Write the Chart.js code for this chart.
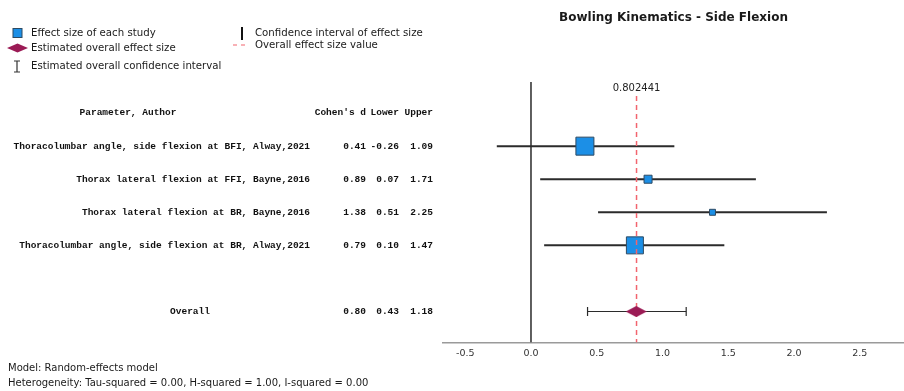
<!DOCTYPE html>
<html>
<head>
<meta charset="utf-8">
<script src="https://cdn.jsdelivr.net/npm/chart.js@4.4.1/dist/chart.umd.min.js"></script>
<style>
  html, body { margin: 0; padding: 0; background: #ffffff; }
  #wrap { position: relative; width: 904px; height: 391px; }
</style>
</head>
<body>
<div id="wrap"><canvas id="c" width="904" height="391"></canvas></div>
<script>
// ---------------- data ----------------
const studyLabels = [
  'Thoracolumbar angle, side flexion at BFI, Alway,2021',
  'Thorax lateral flexion at FFI, Bayne,2016',
  'Thorax lateral flexion at BR, Bayne,2016',
  'Thoracolumbar angle, side flexion at BR, Alway,2021'
];
const cohensD = [0.41, 0.89, 1.38, 0.79];
const lowerCI = [-0.26, 0.07, 0.51, 0.10];
const upperCI = [1.09, 1.71, 2.25, 1.47];
const studyWeights = [45.4, 9.0, 5.0, 40.5];   // relative weight (%)
const overallLabel = 'Overall';
const overallD = 0.80;
const overallLower = 0.43;
const overallUpper = 1.18;
const overallValue = 0.802441;
const xTickValues = [-0.5, 0.0, 0.5, 1.0, 1.5, 2.0, 2.5];
const titleText = 'Bowling Kinematics - Side Flexion';
const headerLabels = ['Parameter, Author', "Cohen's d", 'Lower', 'Upper'];
const legendItems = ['Effect size of each study', 'Estimated overall effect size', 'Estimated overall confidence interval',
                     'Confidence interval of effect size', 'Overall effect size value'];
const footnotes = ['Model: Random-effects model',
                   'Heterogeneity: Tau-squared = 0.00, H-squared = 1.00, I-squared = 0.00'];

// ---------------- rows (y values) ----------------
const headerRow = 1;
const studyRows = studyLabels.map((_, i) => i + 2);
const overallRow = studyLabels.length + 3;
const Y_MAX = 7.94;

// ---------------- styles ----------------
const BOX_FILL = '#1c8fe6';
const BOX_BORDER = '#2d4a63';
const DIAMOND = '#9b1b55';
const LINE = '#2b2b2b';
const RED = '#f2646e';
const MONO = 'bold 9.5px "Liberation Mono", "Courier New", monospace';
const SANS = '"DejaVu Sans", "Open Sans", sans-serif';

// diamond image for the overall estimate
function makeDiamond(w, h, color) {
  const cv = document.createElement('canvas');
  cv.width = w; cv.height = h;
  const g = cv.getContext('2d');
  g.fillStyle = color;
  g.beginPath();
  g.moveTo(0, h / 2); g.lineTo(w / 2, 0); g.lineTo(w, h / 2); g.lineTo(w / 2, h); g.closePath();
  g.fill();
  return cv;
}
const diamondImg = makeDiamond(21, 11, DIAMOND);

const boxSide = studyWeights.map(w => 2.67 * Math.sqrt(w));

const datasets = [];
// study boxes
datasets.push({
  type: 'scatter',
  label: 'boxes',
  data: cohensD.map((d, i) => ({ x: d, y: studyRows[i] })),
  pointStyle: 'rect',
  pointRadius: boxSide.map(s => s / Math.SQRT2),
  pointHoverRadius: boxSide.map(s => s / Math.SQRT2),
  backgroundColor: BOX_FILL,
  borderColor: BOX_BORDER,
  borderWidth: 1,
  order: 1
});
// overall diamond
datasets.push({
  type: 'scatter',
  label: 'overall',
  data: [{ x: overallD, y: overallRow }],
  pointStyle: diamondImg,
  order: 0
});
// red dashed reference line
datasets.push({
  type: 'line',
  label: 'ref',
  data: [{ x: overallValue, y: 0.48 }, { x: overallValue, y: Y_MAX }],
  borderColor: RED,
  borderWidth: 1.5,
  borderDash: [5, 4],
  pointRadius: 0,
  order: 0.5
});
// study CI lines
studyLabels.forEach((_, i) => {
  datasets.push({
    type: 'line',
    label: 'ci' + i,
    data: [{ x: lowerCI[i], y: studyRows[i] }, { x: upperCI[i], y: studyRows[i] }],
    borderColor: LINE,
    borderWidth: 2,
    pointRadius: 0,
    order: 2
  });
});
// overall CI with caps
datasets.push({
  type: 'line',
  label: 'overallCI',
  data: [{ x: overallLower, y: overallRow }, { x: overallUpper, y: overallRow }],
  borderColor: LINE,
  borderWidth: 1,
  pointStyle: 'line',
  pointRotation: 90,
  pointRadius: 4.5,
  pointBorderColor: LINE,
  pointBorderWidth: 1.2,
  order: 2
});
// zero line
datasets.push({
  type: 'line',
  label: 'zero',
  data: [{ x: 0, y: 0.06 }, { x: 0, y: Y_MAX }],
  borderColor: LINE,
  borderWidth: 1.5,
  pointRadius: 0,
  order: 3
});

const textPlugin = {
  id: 'forestText',
  afterDraw(chart) {
    const ctx = chart.ctx;
    const xs = chart.scales.x, ys = chart.scales.y;
    const area = chart.chartArea;
    ctx.save();
    // title
    ctx.fillStyle = '#1a1a1a';
    ctx.font = 'bold 12px ' + SANS;
    ctx.textAlign = 'center';
    ctx.textBaseline = 'middle';
    ctx.fillText(titleText, (area.left + area.right) / 2, 17.5);

    // value label
    ctx.font = '10px ' + SANS;
    ctx.fillStyle = '#222';
    ctx.fillText(overallValue.toString(), xs.getPixelForValue(overallValue), ys.getPixelForValue(0.24));

    // table
    ctx.font = MONO;
    ctx.fillStyle = '#111';
    const colRight = [366, 399, 433];
    const hy = ys.getPixelForValue(headerRow);
    ctx.textAlign = 'center';
    ctx.fillText(headerLabels[0], 128, hy);
    ctx.textAlign = 'right';
    ctx.fillText(headerLabels[1], colRight[0], hy);
    ctx.fillText(headerLabels[2], colRight[1], hy);
    ctx.fillText(headerLabels[3], colRight[2], hy);
    studyLabels.forEach((lab, i) => {
      const y = ys.getPixelForValue(studyRows[i]);
      ctx.textAlign = 'right';
      ctx.fillText(lab, 310, y);
      ctx.fillText(cohensD[i].toFixed(2), colRight[0], y);
      ctx.fillText(lowerCI[i].toFixed(2), colRight[1], y);
      ctx.fillText(upperCI[i].toFixed(2), colRight[2], y);
    });
    const oy = ys.getPixelForValue(overallRow);
    ctx.textAlign = 'center';
    ctx.fillText(overallLabel, 190, oy);
    ctx.textAlign = 'right';
    ctx.fillText(overallD.toFixed(2), colRight[0], oy);
    ctx.fillText(overallLower.toFixed(2), colRight[1], oy);
    ctx.fillText(overallUpper.toFixed(2), colRight[2], oy);

    // legend
    ctx.textAlign = 'left';
    ctx.fillStyle = BOX_FILL;
    ctx.fillRect(13, 28.5, 9, 9);
    ctx.strokeStyle = BOX_BORDER; ctx.lineWidth = 1;
    ctx.strokeRect(13, 28.5, 9, 9);
    ctx.fillStyle = DIAMOND;
    ctx.beginPath();
    ctx.moveTo(7, 48); ctx.lineTo(17.5, 43.5); ctx.lineTo(28, 48); ctx.lineTo(17.5, 52.5); ctx.closePath();
    ctx.fill();
    ctx.strokeStyle = '#333'; ctx.lineWidth = 1.2;
    ctx.beginPath();
    ctx.moveTo(17, 61); ctx.lineTo(17, 72);
    ctx.moveTo(14, 61); ctx.lineTo(20, 61);
    ctx.moveTo(14, 72); ctx.lineTo(20, 72);
    ctx.stroke();
    ctx.strokeStyle = '#111'; ctx.lineWidth = 2;
    ctx.beginPath(); ctx.moveTo(242, 27); ctx.lineTo(242, 40); ctx.stroke();
    ctx.strokeStyle = RED; ctx.lineWidth = 1.2;
    ctx.beginPath(); ctx.moveTo(233, 45); ctx.lineTo(237, 45); ctx.moveTo(241, 45); ctx.lineTo(245, 45); ctx.stroke();

    ctx.font = '10.2px ' + SANS;
    ctx.fillStyle = '#1a1a1a';
    ctx.fillText(legendItems[0], 31, 33);
    ctx.fillText(legendItems[1], 31, 48);
    ctx.fillText(legendItems[2], 31, 66);
    ctx.fillText(legendItems[3], 255, 33);
    ctx.fillText(legendItems[4], 255, 45);

    // footnotes
    ctx.font = '10px ' + SANS;
    ctx.fillText(footnotes[0], 8, 368);
    ctx.fillText(footnotes[1], 8, 383);
    ctx.restore();
  }
};

new Chart(document.getElementById('c'), {
  type: 'scatter',
  data: { datasets },
  options: {
    responsive: false,
    animation: false,
    devicePixelRatio: 1,
    layout: { autoPadding: false, padding: { left: 443, top: 80, right: 0, bottom: 27 } },
    plugins: { legend: { display: false }, tooltip: { enabled: false }, title: { display: false } },
    scales: {
      x: {
        type: 'linear',
        min: -0.669,
        max: 2.836,
        afterBuildTicks(scale) { scale.ticks = xTickValues.map(v => ({ value: v })); },
        afterFit(scale) { scale.paddingLeft = 0; scale.paddingRight = 0; },
        grid: { display: false, drawTicks: false },
        border: { display: true, color: '#9a9a9a', width: 1.5 },
        ticks: {
          padding: 5,
          color: '#333',
          font: { family: SANS, size: 9.5 },
          callback: v => v.toFixed(1)
        }
      },
      y: {
        type: 'linear',
        display: false,
        reverse: true,
        min: 0,
        max: Y_MAX
      }
    }
  },
  plugins: [textPlugin]
});
</script>
</body>
</html>
